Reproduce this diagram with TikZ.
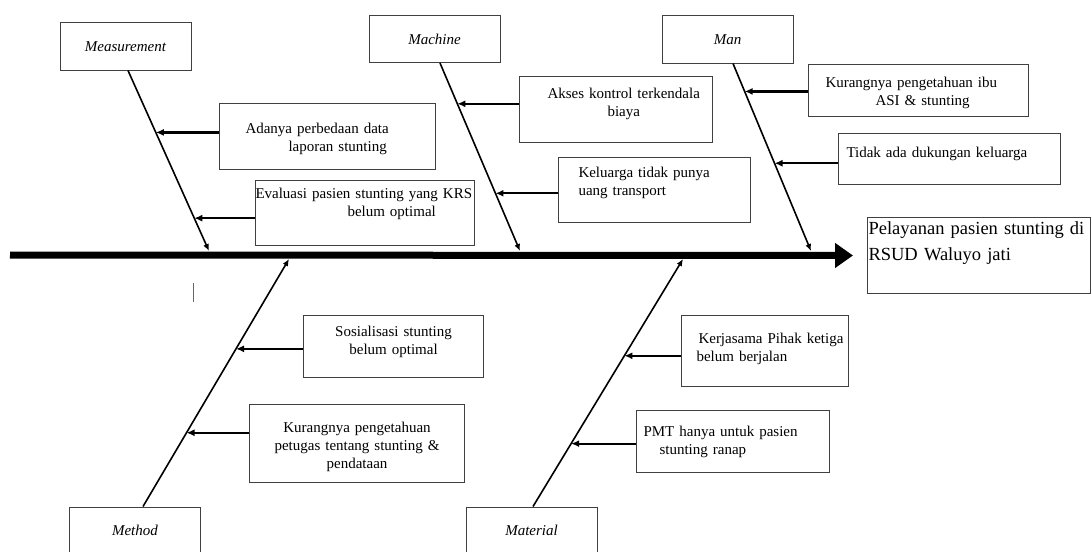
\documentclass[tikz,border=0pt]{standalone}
\usepackage{fontspec}
\setmainfont{Liberation Serif}
\usetikzlibrary{arrows.meta,calc}

\begin{document}
\begin{tikzpicture}[
  x=1pt, y=-1pt,
  category/.style={draw=black!75, line width=1pt, minimum width=131pt,
    minimum height=47pt, font=\fontsize{15}{18}\selectfont\itshape},
  cause/.style={draw=black!75, line width=1pt, anchor=north west,
    inner xsep=0pt, inner ysep=0pt, align=left,
    font=\fontsize{15}{18}\selectfont},
  effect/.style={draw=black!75, line width=1pt, anchor=north west,
    inner xsep=1pt, inner ysep=0pt, align=left,
    font=\fontsize{18.5}{26}\selectfont},
  spine/.style={line width=7pt, -{Triangle[length=18pt,width=24pt]}},
  bone/.style={line width=1.6pt, -{Latex[length=7pt,width=6pt]}},
  causearrow/.style={line width=2.2pt, -{Latex[length=8pt,width=7pt]}},
]
  \useasboundingbox (0,0) rectangle (1091,551);
  % Categories
  \node[category] (mea) at (125.5,46.5) {Measurement};
  \node[category] (mac) at (434.5,39) {Machine};
  \node[category] (man) at (727.5,39.5) {Man};
  \node[category] (met) at (135,530.5) {Method};
  \node[category] (mat) at (531.5,530.5) {Material};
  % Effect
  \node[effect, text width=221pt, text height=17pt, text depth=59pt]
    (eff) at (867,217) {Pelayanan pasien stunting di\\RSUD Waluyo jati};
  % Causes, upper side
  \node[cause, text width=216pt, text height=30pt, text depth=36pt]
    (c1) at (219,103)
    {\hspace*{26pt}Adanya perbedaan data\\\hspace*{69pt}laporan stunting};
  \node[cause, text width=219pt, text height=18pt, text depth=47pt]
    (c2) at (255,180)
    {\mbox{Evaluasi pasien stunting yang KRS}\\\hspace*{92pt}belum optimal};
  \node[cause, text width=193pt, text height=22pt, text depth=44pt]
    (c3) at (519,76)
    {\hspace*{28pt}Akses kontrol terkendala\\\hspace*{88pt}biaya};
  \node[cause, text width=192pt, text height=20pt, text depth=45pt]
    (c4) at (558,157)
    {\hspace*{20pt}Keluarga tidak punya\\\hspace*{20pt}uang transport};
  \node[cause, text width=220pt, text height=23pt, text depth=29pt]
    (c5) at (808,64)
    {\hspace*{17pt}Kurangnya pengetahuan ibu\\\hspace*{67pt}ASI \& stunting};
  \node[cause, text width=222pt, text height=24pt, text depth=27pt]
    (c6) at (838,133) {\hspace*{8pt}Tidak ada dukungan keluarga};
  % Causes, lower side
  \node[cause, align=center, text width=180pt, text height=21pt,
    text depth=41pt] (c7) at (303,315)
    {Sosialisasi stunting\\belum optimal};
  \node[cause, align=center, text width=215pt, text height=28pt,
    text depth=50pt] (c8) at (249,404)
    {Kurangnya pengetahuan\\petugas tentang stunting \&\\pendataan};
  \node[cause, text width=167pt, text height=28pt, text depth=43pt]
    (c9) at (681,315)
    {\hspace*{17pt}Kerjasama Pihak ketiga\\\hspace*{15pt}belum berjalan};
  \node[cause, text width=193pt, text height=26pt, text depth=36pt]
    (c10) at (636,410)
    {\hspace*{7pt}PMT hanya untuk pasien\\\hspace*{23pt}stunting ranap};
  % Spine
  \coordinate (tail) at (10,255);
  \draw[spine] (tail) -- (eff.west) [shorten >=14pt];
  % Bones
  \coordinate (mtop) at ([xshift=2.5pt]mea.south);
  \coordinate (jmea) at (209,251);
  \coordinate (ctop) at ([xshift=5.5pt]mac.south);
  \coordinate (jmac) at (520,251);
  \coordinate (ntop) at ([xshift=5.5pt]man.south);
  \coordinate (jman) at (811,251);
  \coordinate (tbot) at ([xshift=8pt]met.north);
  \coordinate (jmet) at (289,259);
  \coordinate (lbot) at ([xshift=1.5pt]mat.north);
  \coordinate (jmat) at (683,259);
  \draw[bone] (mtop) -- (jmea);
  \draw[bone] (ctop) -- (jmac);
  \draw[bone] (ntop) -- (jman);
  \draw[bone] (tbot) -- (jmet);
  \draw[bone] (lbot) -- (jmat);
  % Points where the causes meet the bones
  \coordinate (p1) at ($(mtop)!0.343!(jmea)$);
  \coordinate (p2) at ($(mtop)!0.818!(jmea)$);
  \coordinate (p3) at ($(ctop)!0.217!(jmac)$);
  \coordinate (p4) at ($(ctop)!0.693!(jmac)$);
  \coordinate (p5) at ($(ntop)!0.149!(jman)$);
  \coordinate (p6) at ($(ntop)!0.532!(jman)$);
  \coordinate (p7) at ($(tbot)!0.637!(jmet)$);
  \coordinate (p8) at ($(tbot)!0.298!(jmet)$);
  \coordinate (p9) at ($(lbot)!0.609!(jmat)$);
  \coordinate (p10) at ($(lbot)!0.254!(jmat)$);
  \foreach \i in {1,...,10}
    \draw[causearrow] (c\i.west |- p\i) -- (p\i);
  % stray mark
  \draw[black!60, line width=0.8pt] (193,283) -- (193,302);
\end{tikzpicture}
\end{document}
